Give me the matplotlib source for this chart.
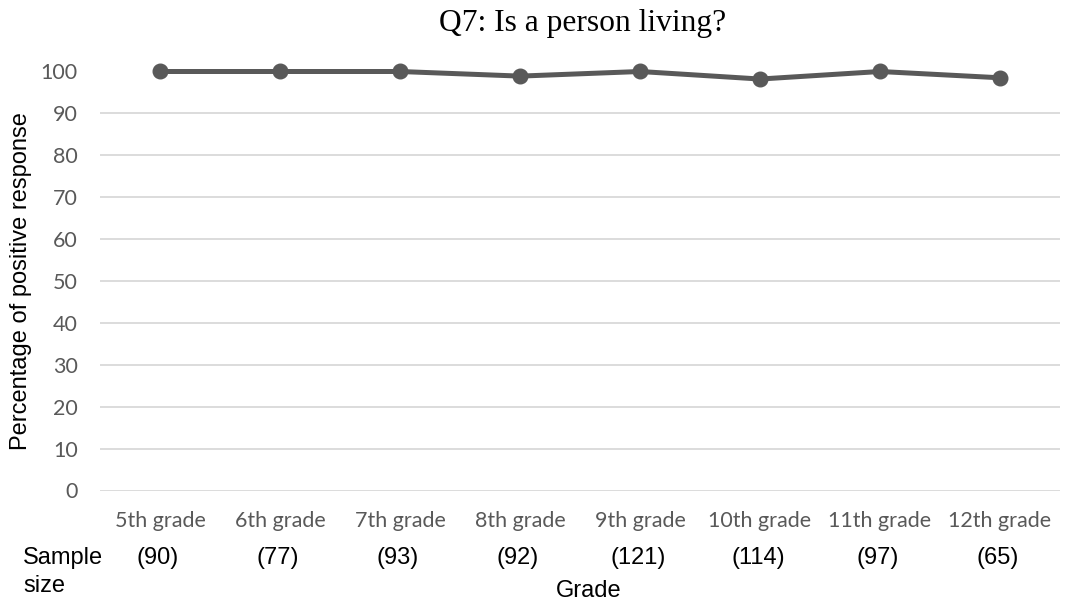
import matplotlib
matplotlib.use("Agg")
import matplotlib.pyplot as plt

grades = ["5th grade", "6th grade", "7th grade", "8th grade",
          "9th grade", "10th grade", "11th grade", "12th grade"]
sample_sizes = [90, 77, 93, 92, 121, 114, 97, 65]
positive_pct = [100, 100, 100, 98.9, 100, 98.2, 100, 98.5]
y_ticks = list(range(0, 101, 10))

W, H = 1066, 607
fig = plt.figure(figsize=(W / 100, H / 100), dpi=100)
ax = fig.add_axes([100 / W, 1 - 490.5 / H, (1060 - 100) / W, (490.5 - 71.5) / H])

x = list(range(len(grades)))
ax.plot(x, positive_pct, color="#595959", lw=3.6, marker="o", ms=10.5,
        solid_joinstyle="round", clip_on=False, zorder=3)

ax.set_xlim(-0.5, len(grades) - 0.5)
ax.set_ylim(0, 100)
ax.set_yticks(y_ticks)
ax.set_xticks(x)
ax.set_xticklabels(grades)
ax.grid(axis="y", color="#d9d9d9", lw=1.3)
ax.set_axisbelow(True)
for s in ax.spines.values():
    s.set_visible(False)
ax.tick_params(length=0, labelcolor="#595959", labelsize=15.5)
ax.tick_params(axis="y", pad=16)
ax.tick_params(axis="x", pad=15)
for lab in ax.get_xticklabels() + ax.get_yticklabels():
    lab.set_family("Lato")

sans = "Liberation Sans"
fs = 17
fig.text(583 / W, 1 - 24 / H, "Q7: Is a person living?", ha="center", va="center",
         family="Liberation Serif", fontsize=22.7, color="black")
fig.text(21 / W, 1 - 281 / H, "Percentage of positive response", rotation=90,
         ha="center", va="center", family=sans, fontsize=fs)
fig.text(23 / W, 1 - 558 / H, "Sample", ha="left", va="center", family=sans, fontsize=fs)
fig.text(23 / W, 1 - 586 / H, "size", ha="left", va="center", family=sans, fontsize=fs)
for xi, n in zip(x, sample_sizes):
    ax.annotate(f"({n})", xy=(xi, 0), xycoords=("data", "axes fraction"),
                xytext=(-2, -(558 - 490.5)), textcoords="offset pixels",
                ha="center", va="center", family=sans, fontsize=fs)
fig.text(589 / W, 1 - 591 / H, "Grade", ha="center", va="center", family=sans, fontsize=fs)

fig.savefig("out.png", dpi=100)
